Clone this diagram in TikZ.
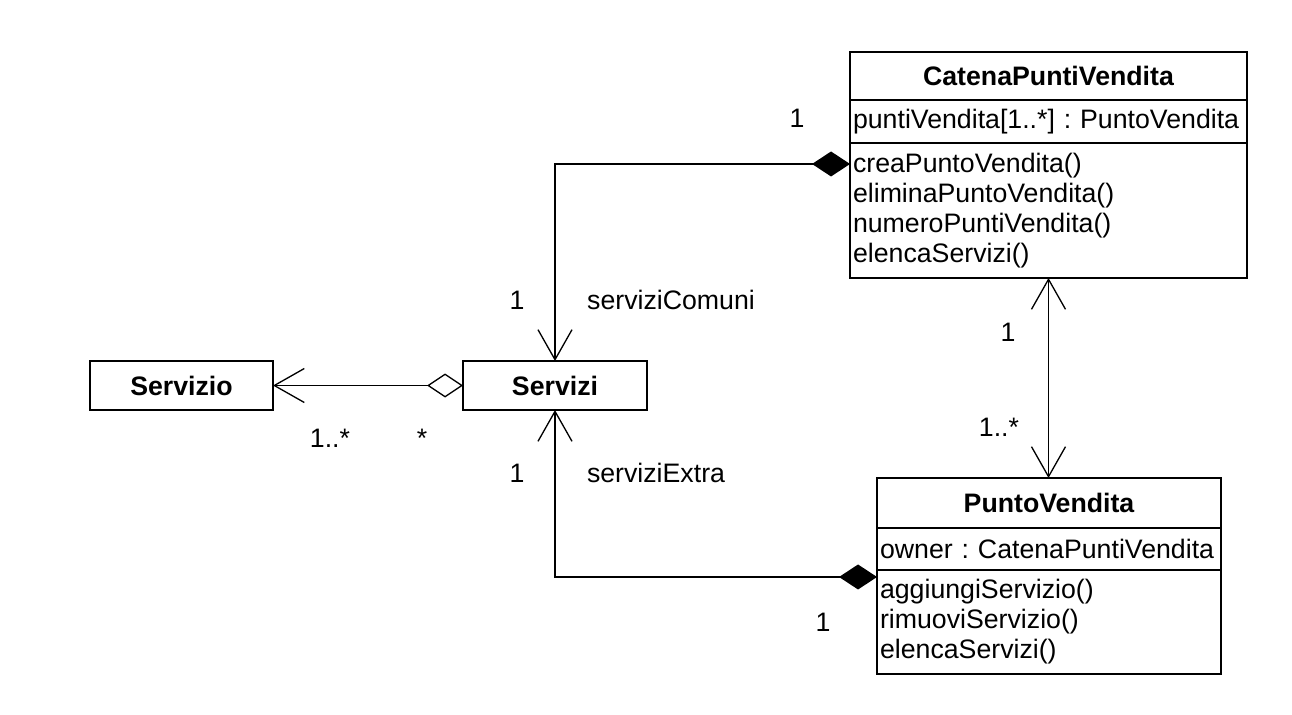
\documentclass[tikz,border=0pt]{standalone}
\usepackage{fontspec}
\setmainfont{Liberation Sans}
\usetikzlibrary{arrows.meta}
\frenchspacing

\begin{document}
\begin{tikzpicture}[x=0.02cm, y=-0.02cm,
    font=\fontsize{15.2pt}{17.1pt}\selectfont,
    clstitle/.style={draw, line width=1.3pt, outer sep=0pt, inner xsep=0.06cm, inner ysep=0pt, text width=#1, align=center, font=\fontsize{15.2pt}{17.1pt}\selectfont\bfseries},
    clsbody/.style={draw, line width=1.3pt, outer sep=0pt, inner xsep=0.06cm, inner ysep=0pt, text width=#1, align=left},
    mult/.style={anchor=base, inner sep=0pt},
    assoc/.style={line width=0.75pt},
    barb/.tip={Straight Barb[length=0.6cm, width=0.68cm]},
    comp/.tip={Diamond[length=0.76cm, width=0.5cm]},
    aggr/.tip={Diamond[open, length=0.72cm, width=0.48cm]}]
  \useasboundingbox (0,0) rectangle (1292,714);

  % classes
  \node (catT) at (1048.5,52) [clstitle=7.82cm, anchor=north, minimum height=0.96cm] {CatenaPuntiVendita};
  \node (catA) at (catT.south) [clsbody=7.82cm, anchor=north, minimum height=0.86cm] {puntiVendita[1..*] : PuntoVendita};
  \node (catM) at (catA.south) [clsbody=7.82cm, anchor=north, minimum height=2.7cm] {creaPuntoVendita()\\ eliminaPuntoVendita()\\ numeroPuntiVendita()\\ elencaServizi()};

  \node (pvT) at (1049,478) [clstitle=6.76cm, anchor=north, minimum height=1.0cm] {PuntoVendita};
  \node (pvA) at (pvT.south) [clsbody=6.76cm, anchor=north, minimum height=0.84cm] {owner : CatenaPuntiVendita};
  \node (pvM) at (pvA.south) [clsbody=6.76cm, anchor=north, minimum height=2.08cm] {aggiungiServizio()\\ rimuoviServizio()\\ elencaServizi()};

  \node (srvo) at (181.5,385.5) [clstitle=3.54cm, minimum height=0.98cm] {Servizio};
  \node (srvi) at (555,385.5) [clstitle=3.56cm, minimum height=0.98cm] {Servizi};

  % associations
  \draw[assoc, barb-comp] (srvi.north) |- ([yshift=-0.42cm]catM.north west);
  \draw[assoc, barb-comp] (srvi.south) |- ([yshift=-0.14cm]pvM.north west);
  \draw[assoc, barb-barb] (catM.south) -- (catM.south |- pvT.north);
  \draw[assoc, barb-aggr] (srvo.east) -- (srvi.west);

  % multiplicities and roles
  \node (mCatS) at (797,127.5) [mult] {1};
  \node (mSrvC) at (517,309.5) [mult] {1};
  \node (rComuni) at (671,309.5) [mult] {serviziComuni};
  \node (mSrvE) at (517,482.5) [mult] {1};
  \node (rExtra) at (656,482.5) [mult] {serviziExtra};
  \node (mPvS) at (823,631.5) [mult] {1};
  \node (mCatP) at (1008,341.5) [mult] {1};
  \node (mPvC) at (999,436.5) [mult] {1..*};
  \node (mSrvo) at (330,447) [mult] {1..*};
  \node (mSrvi) at (422,447) [mult] {*};
\end{tikzpicture}
\end{document}
